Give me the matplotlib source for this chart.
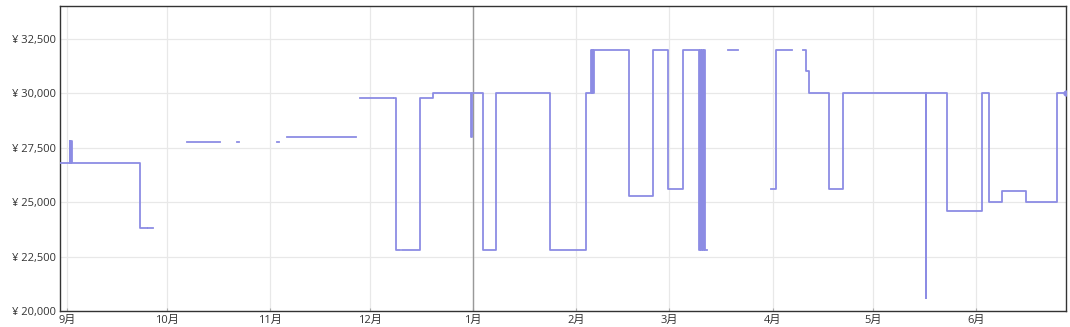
import matplotlib

matplotlib.use("Agg")
import matplotlib.dates as mdates
import matplotlib.pyplot as plt
import numpy as np
import pandas as pd
from matplotlib.ticker import FuncFormatter

plt.rcParams["font.family"] = ["Open Sans", "Noto Sans CJK JP", "DejaVu Sans"]

# 価格推移 (steps-post, None = データなし)
dates = [
    "2022-08-30", "2022-09-01 20:00", "2022-09-02 02:00", "2022-09-02 06:00", "2022-09-02 12:00",
    "2022-09-23", "2022-09-25", "2022-09-25 12:00", "2022-09-27",
    "2022-10-07", "2022-10-17",
    "2022-10-22", "2022-10-22 14:00",
    "2022-11-03", "2022-11-03 18:00",
    "2022-11-06", "2022-11-27",
    "2022-11-28", "2022-12-07 22:00", "2022-12-08 07:00",
    "2022-12-08 22:00", "2022-12-10 02:00", "2022-12-10 14:00",
    "2022-12-16", "2022-12-20",
    "2022-12-31 10:00", "2022-12-31 14:00",
    "2023-01-04", "2023-01-08", "2023-01-24", "2023-02-04",
    "2023-02-05 10:00", "2023-02-05 15:00", "2023-02-05 20:00", "2023-02-06 01:00", "2023-02-06 05:00",
    "2023-02-17", "2023-02-24", "2023-02-28 10:00", "2023-03-05",
    "2023-03-10", "2023-03-10 06:00", "2023-03-10 12:00", "2023-03-10 18:00",
    "2023-03-11 00:00", "2023-03-11 06:00", "2023-03-11 14:00", "2023-03-12 05:00",
    "2023-03-18 16:00", "2023-03-21 16:00",
    "2023-03-31 12:00", "2023-04-02", "2023-04-06 16:00",
    "2023-04-10", "2023-04-11", "2023-04-12", "2023-04-18", "2023-04-22",
    "2023-05-17", "2023-05-17 04:00", "2023-05-23 10:00",
    "2023-06-03", "2023-06-05", "2023-06-09", "2023-06-16", "2023-06-25 12:00", "2023-06-28",
]
prices = [
    26800, 27800, 26800, 27800, 26800,
    23800, None, 23800, None,
    27780, None,
    27780, None,
    27780, None,
    28000, None,
    29800, None, 29800,
    22800, None, 22800,
    29800, 30000,
    28000, 30000,
    22800, 30000, 22800, 30000,
    32000, 30000, 32000, 30000, 32000,
    25300, 32000, 25600, 32000,
    22800, 32000, 22800, 32000,
    22800, 32000, 22800, None,
    32000, None,
    25600, 32000, None,
    32000, 31000, 30000, 25600, 30000,
    20600, 30000, 24600,
    30000, 25000, 25500, 25000, 30000, 30000,
]

yticks = [20000, 22500, 25000, 27500, 30000, 32500]
month_starts = ["2022-09-01", "2022-10-01", "2022-11-01", "2022-12-01", "2023-01-01",
                "2023-02-01", "2023-03-01", "2023-04-01", "2023-05-01", "2023-06-01"]
year_mark = "2023-01-01"

LINE = "#8c8ce4"
TXT = "#333333"

x = pd.to_datetime(dates, format="mixed")
y = np.array([np.nan if p is None else p for p in prices], dtype=float)

fig = plt.figure(figsize=(10.7, 3.27), dpi=100)
ax = fig.add_axes([0.0564, 0.048, 0.9396, 0.9337])

ax.plot(x, y, drawstyle="steps-post", color=LINE, lw=1.3, zorder=3)
ax.plot(x[-1], y[-1], "o", color=LINE, ms=3.5, zorder=4)

ax.axvline(pd.Timestamp(year_mark), color="#999999", lw=1.0, zorder=2)

ax.set_xlim(pd.Timestamp("2022-08-30 02:00"), x[-1])
ax.set_ylim(20000, 34000)

ax.set_yticks(yticks)
ax.yaxis.set_major_formatter(FuncFormatter(lambda v, _: f"¥ {int(v):,}"))
ax.set_xticks(pd.to_datetime(month_starts))
ax.xaxis.set_major_formatter(FuncFormatter(lambda v, _: f"{mdates.num2date(v).month}月"))

ax.grid(True, color="#e8e8e8", lw=0.9, zorder=0)
ax.tick_params(axis="y", length=0, pad=3, labelsize=8, labelcolor=TXT)
ax.tick_params(axis="x", direction="in", length=2.5, color="#aaaaaa", pad=2.5, labelsize=8, labelcolor=TXT)
for s in ax.spines.values():
    s.set_color("#333333")
    s.set_linewidth(1.0)

fig.savefig("out.png", dpi=100)
